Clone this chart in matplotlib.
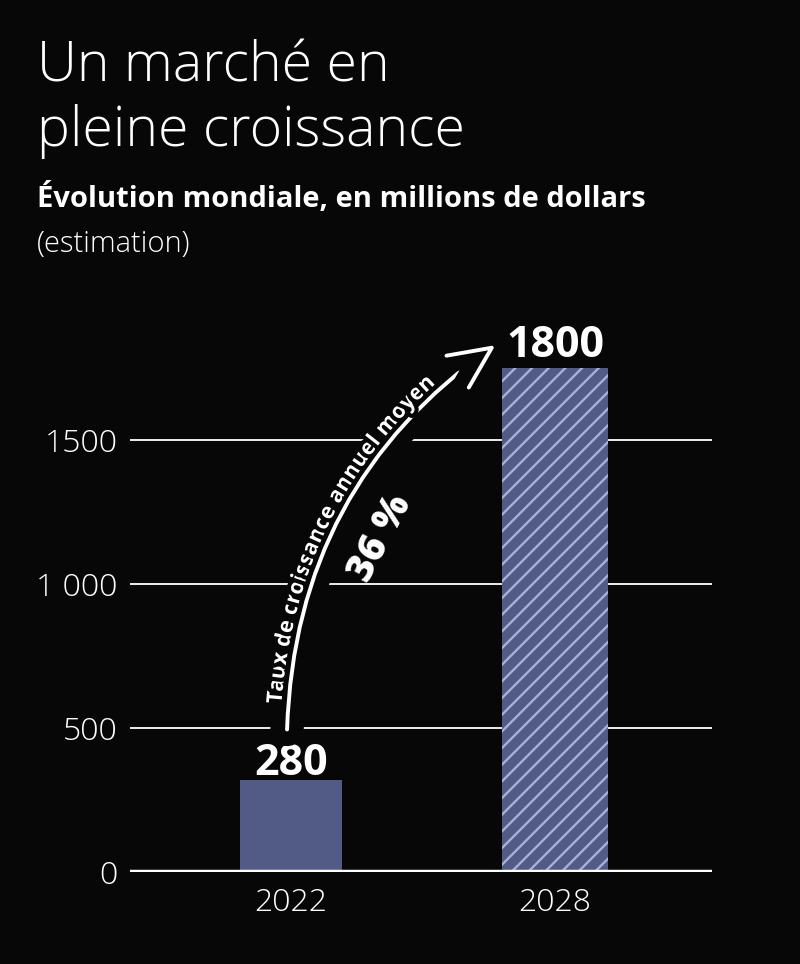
import numpy as np
import matplotlib
matplotlib.use("Agg")
import matplotlib.pyplot as plt
from matplotlib.patches import FancyArrowPatch
from matplotlib.transforms import IdentityTransform
from matplotlib.textpath import TextToPath
from matplotlib.font_manager import FontProperties
import matplotlib.patheffects as pe

# data
years = ["2022", "2028"]
bar_heights = [320, 1750]      # drawn bar heights (as on the chart)
value_labels = ["280", "1800"]  # printed values
y_ticks = [0, 500, 1000, 1500]
y_tick_labels = ["0", "500", "1 000", "1500"]
growth_rate = "36 %"
growth_caption = "Taux de croissance annuel moyen"

BG = "#070707"
BAR = "#525b85"
HATCH = "#a9b0d8"
FONT = "Open Sans"

plt.rcParams["font.family"] = [FONT, "DejaVu Sans"]
plt.rcParams["hatch.linewidth"] = 1.7

fig = plt.figure(figsize=(8, 9.64), dpi=100, facecolor=BG)
ax = fig.add_axes([0.1625, 0.0954, 0.7275, 0.5726])
ax.set_facecolor(BG)

x = np.arange(len(years))
ax.bar(x[0], bar_heights[0], width=0.39, color=BAR, zorder=3)
ax.bar(x[1], bar_heights[1], width=0.40, facecolor=BAR, edgecolor=HATCH,
       hatch="//", linewidth=0, zorder=3)

ax.set_xlim(-0.61, 1.595)
ax.set_ylim(0, 1917)

# gridlines and baseline
for t in y_ticks[1:]:
    ax.axhline(t, color="white", lw=1.3, zorder=1)
ax.axhline(0, color="white", lw=3.2, zorder=4)

for s in ax.spines.values():
    s.set_visible(False)
ax.set_yticks(y_ticks)
ax.set_yticklabels(y_tick_labels)
ax.set_xticks(x)
ax.set_xticklabels(years)
ax.tick_params(axis="both", length=0, colors="white", labelsize=23)
ax.tick_params(axis="y", pad=9)
ax.tick_params(axis="x", pad=11)
for lab in ax.get_yticklabels() + ax.get_xticklabels():
    lab.set_fontweight("light")

# value labels
label_pad = [17, 40]
for xi, h, pad, txt in zip(x, bar_heights, label_pad, value_labels):
    ax.text(xi, h + pad, txt, ha="center", va="baseline", color="white",
            fontsize=31, fontweight="bold", zorder=5)

# curved arrow
start = (x[0] - 0.015, bar_heights[0] + 175)
end = (x[1] - 0.225, bar_heights[1] + 80)
rad = -0.25
mask = [pe.withStroke(linewidth=24, foreground=BG)]
arrow = FancyArrowPatch(start, end, connectionstyle=f"arc3,rad={rad}",
                        arrowstyle="->,head_length=1.5,head_width=0.7",
                        mutation_scale=20, color="white", lw=2.8,
                        shrinkA=0, shrinkB=0, zorder=6, path_effects=mask)
ax.add_patch(arrow)

# caption written along the arrow
P0 = ax.transData.transform(start)
P2 = ax.transData.transform(end)
mid = (P0 + P2) / 2
d = P2 - P0
C = np.array([mid[0] + rad * d[1], mid[1] - rad * d[0]])
tt = np.linspace(0, 1, 2001)
curve = ((1 - tt)[:, None] ** 2) * P0 + (2 * (1 - tt) * tt)[:, None] * C + (tt[:, None] ** 2) * P2
seg = np.hypot(*np.diff(curve, axis=0).T)
arc = np.concatenate([[0], np.cumsum(seg)])

prop = FontProperties(family=FONT, weight="bold", size=15.5)
ttp = TextToPath()
def width_px(s):
    if not s:
        return 0.0
    w, h, dsc = ttp.get_text_width_height_descent(s, prop, ismath=False)
    return w * fig.dpi / 72.0

total = width_px(growth_caption)
s_start = arc[-1] * 0.45 - total / 2
offset = 7
for i, ch in enumerate(growth_caption):
    if ch == " ":
        continue
    c = s_start + (width_px(growth_caption[:i]) + width_px(growth_caption[:i + 1])) / 2
    k = np.searchsorted(arc, c)
    k = min(max(k, 1), len(arc) - 1)
    tang = curve[k] - curve[k - 1]
    tang = tang / np.hypot(*tang)
    normal = np.array([-tang[1], tang[0]])
    pos = curve[k] + normal * offset
    ang = np.degrees(np.arctan2(tang[1], tang[0]))
    fig.text(pos[0], pos[1], ch, transform=IdentityTransform(), rotation=ang,
             rotation_mode="anchor", ha="center", va="baseline",
             color="white", fontproperties=prop, zorder=7,
             path_effects=[pe.withStroke(linewidth=6, foreground=BG)])

ax.text(x[0] + 0.34, 1160, growth_rate, rotation=62, ha="center", va="center",
        color="white", fontsize=28, fontweight="heavy", zorder=7,
        rotation_mode="anchor")

# titles
fig.text(0.046, 0.915, "Un marché en", color="white", fontsize=40,
         fontweight="light", va="baseline")
fig.text(0.046, 0.849, "pleine croissance", color="white", fontsize=40,
         fontweight="light", va="baseline")
fig.text(0.046, 0.7855, "Évolution mondiale, en millions de dollars",
         color="white", fontsize=21, fontweight="bold", va="baseline")
fig.text(0.046, 0.739, "(estimation)", color="white", fontsize=21,
         fontweight="light", va="baseline")

fig.savefig("out.png", dpi=100, facecolor=BG)
